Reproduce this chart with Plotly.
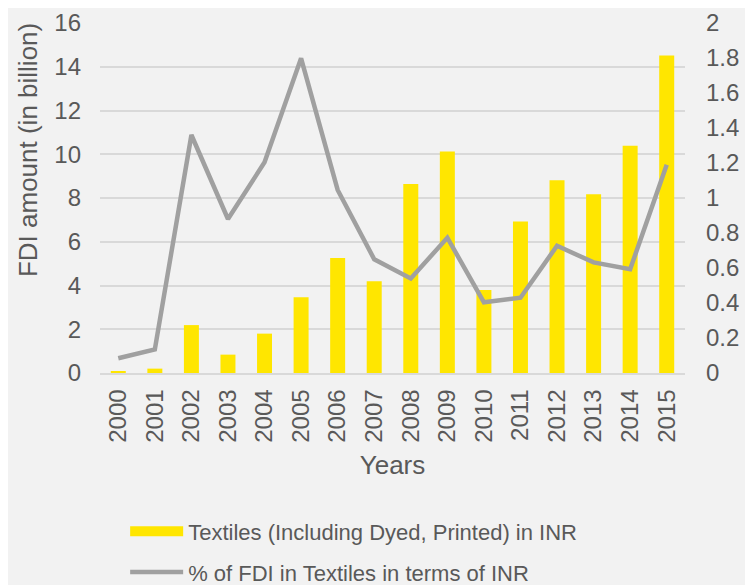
import plotly.graph_objects as go

YEARS = ["2000", "2001", "2002", "2003", "2004", "2005", "2006", "2007",
         "2008", "2009", "2010", "2011", "2012", "2013", "2014", "2015"]
FDI_BILLION = [0.06, 0.2, 2.19, 0.84, 1.8, 3.46, 5.26, 4.2,
               8.64, 10.13, 3.79, 6.93, 8.81, 8.17, 10.39, 14.52]
FDI_SHARE_PCT = [0.084, 0.135, 1.36, 0.88, 1.204, 1.798, 1.046, 0.65,
                 0.54, 0.773, 0.404, 0.43, 0.727, 0.632, 0.593, 1.19]

BAR_NAME = "Textiles (Including Dyed, Printed) in INR"
LINE_NAME = "% of FDI in Textiles in terms of INR"

TEXT = "#595959"
GRID = "#d9d9d9"
BG = "#f2f2f2"
YELLOW = "#ffe600"
FONT = "Liberation Sans, Arial, sans-serif"

fig = go.Figure()
fig.add_trace(go.Bar(
    x=YEARS, y=FDI_BILLION, name=BAR_NAME,
    marker=dict(color=YELLOW, line=dict(width=0)),
    showlegend=False,
))
# wide yellow swatch for the legend (Excel-style rectangle)
fig.add_trace(go.Scatter(
    x=[None], y=[None], mode="lines", name=BAR_NAME,
    line=dict(color=YELLOW, width=13), legendgroup="a",
))
fig.add_trace(go.Scatter(
    x=YEARS, y=FDI_SHARE_PCT, yaxis="y2", mode="lines", name=LINE_NAME,
    line=dict(color="#a0a0a0", width=4.5), legendgroup="b",
))

# y title sits above centre in the original, so place it by hand
fig.add_annotation(
    text="FDI amount (in billion)", textangle=-90, showarrow=False,
    xref="paper", yref="paper", x=-0.123, y=0.637,
    xanchor="center", yanchor="middle",
    font=dict(size=26, color=TEXT),
)

fig.update_layout(
    width=753, height=585,
    margin=dict(l=92, r=76, t=15, b=220),
    paper_bgcolor=BG, plot_bgcolor=BG,
    font=dict(family=FONT, color=TEXT, size=22),
    bargap=0.59,
    xaxis=dict(
        type="category", tickangle=-90, tickfont=dict(size=24),
        showgrid=False, showline=True, linecolor=GRID, linewidth=1.5,
        ticks="", ticklabelstandoff=5, automargin=False,
        title=dict(text="Years", font=dict(size=26), standoff=14),
    ),
    yaxis=dict(
        range=[0, 16], dtick=2, showgrid=True, gridcolor=GRID, gridwidth=1.5,
        zeroline=False, ticks="", ticklabelstandoff=18, automargin=False,
        tickfont=dict(size=24),
    ),
    yaxis2=dict(
        range=[0, 2], dtick=0.2, overlaying="y", side="right",
        showgrid=False, zeroline=False, ticks="", ticklabelstandoff=20,
        automargin=False, tickfont=dict(size=24),
    ),
    legend=dict(
        xref="paper", x=0.043, xanchor="left",
        yref="container", y=0.141, yanchor="top",
        font=dict(size=22, color=TEXT), bgcolor="rgba(0,0,0,0)",
        traceorder="grouped", tracegroupgap=9, itemwidth=53,
    ),
)

fig.write_html("out.html")
